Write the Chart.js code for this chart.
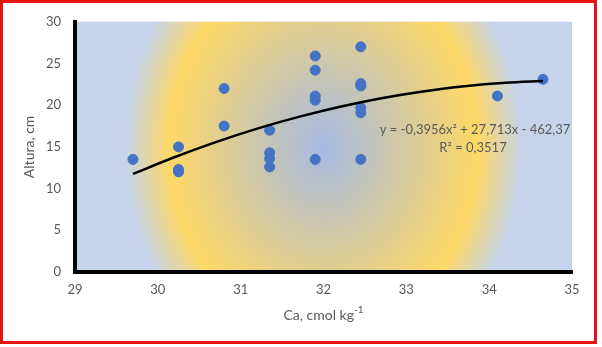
<!DOCTYPE html>
<html>
<head>
<meta charset="utf-8">
<script src="https://cdn.jsdelivr.net/npm/chart.js@4"></script>
<style>
  html, body { margin: 0; padding: 0; background: #fff; }
  #wrap { position: relative; width: 602px; height: 347px; }
  #frame { position: absolute; left: 0; top: 0; width: 597px; height: 344px; box-sizing: border-box; border: 3px solid #e81414; pointer-events: none; }
</style>
</head>
<body>
<div id="wrap">
  <canvas id="c" width="602" height="347"></canvas>
  <div id="frame"></div>
</div>
<script>
// Ca vs plant height scatter with 2nd order trend line

const caValues = [29.7, 30.25, 30.25, 30.25, 30.8, 30.8, 31.35, 31.35, 31.35, 31.35,
                  31.9, 31.9, 31.9, 31.9, 31.9, 32.45, 32.45, 32.45, 32.45, 32.45, 32.45, 34.1, 34.65];
const alturaValues = [13.5, 15.0, 12.0, 12.3, 22.0, 17.5, 17.0, 14.3, 13.6, 12.6,
                      25.9, 24.2, 21.1, 20.6, 13.5, 27.0, 22.6, 22.3, 19.7, 19.1, 13.5, 21.1, 23.1];

// trend line
const trendX = [29.7, 30.2, 30.7, 31.2, 31.7, 32.2, 32.7, 33.2, 33.7, 34.2, 34.65];
const trendY = [11.76, 13.76, 15.57, 17.19, 18.60, 19.82, 20.84, 21.65, 22.28, 22.70, 22.91];

const xTicks = [29, 30, 31, 32, 33, 34, 35];
const yTicks = [0, 5, 10, 15, 20, 25, 30];

const equationLines = ['y = -0,3956x\u00B2 + 27,713x - 462,37', 'R\u00B2 = 0,3517'];
const yTitle = 'Altura, cm';
const xTitle = 'Ca, cmol kg';
const xTitleSup = '-1';

const FONT = 'Lato, "Open Sans", sans-serif';
const TEXT = '#595959';

const plotBackground = {
    id: 'plotBackground',
    beforeDraw(chart) {
        const { ctx, chartArea: a } = chart;
        ctx.save();
        ctx.fillStyle = '#fff';
        ctx.fillRect(0, 0, chart.width, chart.height);
        ctx.beginPath();
        ctx.rect(a.left, a.top, a.right - a.left, a.bottom - a.top);
        ctx.clip();
        const cx = (a.left + a.right) / 2, cy = (a.top + a.bottom) / 2;
        ctx.translate(cx, cy);
        ctx.scale(1, 1.2);
        const g = ctx.createRadialGradient(0, 0, 0, 0, 0, 198);
        g.addColorStop(0, '#a5b9e3');
        g.addColorStop(0.78, '#ffd966');
        g.addColorStop(1, '#c5d4ea');
        ctx.fillStyle = '#c5d4ea';
        ctx.fillRect(-400, -400, 800, 800);
        ctx.fillStyle = g;
        ctx.beginPath();
        ctx.arc(0, 0, 198, 0, Math.PI * 2);
        ctx.fill();
        ctx.restore();
    }
};

const textLayer = {
    id: 'textLayer',
    afterDraw(chart) {
        const { ctx, chartArea: a } = chart;
        ctx.save();
        ctx.fillStyle = TEXT;
        // equation
        ctx.font = '13px ' + FONT;
        ctx.textAlign = 'center';
        ctx.textBaseline = 'middle';
        ctx.fillText(equationLines[0], 475, 130);
        ctx.fillText(equationLines[1], 473, 148);
        // y title
        ctx.font = '14px ' + FONT;
        ctx.save();
        ctx.translate(29, (a.top + a.bottom) / 2);
        ctx.rotate(-Math.PI / 2);
        ctx.fillText(yTitle, 0, 0);
        ctx.restore();
        // x title with superscript
        ctx.textAlign = 'left';
        const w1 = ctx.measureText(xTitle).width;
        ctx.font = '10px ' + FONT;
        const w2 = ctx.measureText(xTitleSup).width;
        const x0 = (a.left + a.right) / 2 - (w1 + w2) / 2;
        ctx.font = '14px ' + FONT;
        ctx.fillText(xTitle, x0, 315);
        ctx.font = '10px ' + FONT;
        ctx.fillText(xTitleSup, x0 + w1, 310);
        ctx.restore();
    }
};

new Chart(document.getElementById('c'), {
    type: 'scatter',
    data: {
        datasets: [
            {
                label: 'Tendência',
                data: trendX.map((x, i) => ({ x, y: trendY[i] })),
                showLine: true,
                borderColor: '#000',
                borderWidth: 2.5,
                pointRadius: 0,
                cubicInterpolationMode: 'monotone',
                order: 0
            },
            {
                label: 'Altura',
                data: caValues.map((x, i) => ({ x, y: alturaValues[i] })),
                backgroundColor: '#4472c4',
                borderColor: '#4472c4',
                borderWidth: 1,
                pointRadius: 5,
                order: 1
            }
        ]
    },
    options: {
        responsive: false,
        animation: false,
        events: [],
        layout: { padding: { left: 0, right: 30, top: 21, bottom: 0 } },
        plugins: { legend: { display: false }, tooltip: { enabled: false } },
        scales: {
            x: {
                type: 'linear',
                min: xTicks[0],
                max: xTicks[xTicks.length - 1],
                afterBuildTicks: s => { s.ticks = xTicks.map(v => ({ value: v })); },
                afterFit: s => { s.height = 75; },
                grid: { display: false, drawTicks: false },
                border: { display: true, color: '#000', width: 4 },
                ticks: { color: TEXT, font: { family: FONT, size: 13 }, padding: 10 }
            },
            y: {
                type: 'linear',
                min: yTicks[0],
                max: yTicks[yTicks.length - 1],
                afterBuildTicks: s => { s.ticks = yTicks.map(v => ({ value: v })); },
                afterFit: s => { s.width = 75; },
                grid: { display: false, drawTicks: false },
                border: { display: true, color: '#000', width: 4 },
                ticks: { color: TEXT, font: { family: FONT, size: 13 }, padding: 14 }
            }
        }
    },
    plugins: [plotBackground, textLayer]
});
</script>
</body>
</html>
